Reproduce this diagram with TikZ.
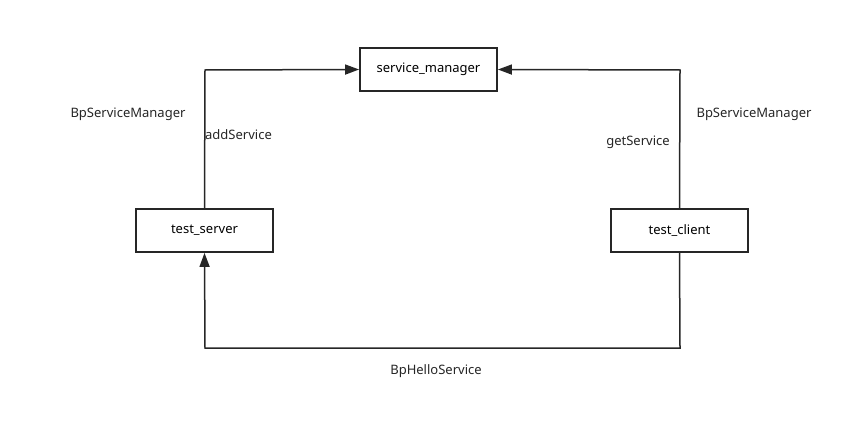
\documentclass[tikz,border=0pt]{standalone}
\usepackage{fontspec}
\setmainfont{Noto Sans}
\usetikzlibrary{arrows.meta}
\begin{document}
\begin{tikzpicture}[x=1pt,y=-1pt,
  box/.style={draw=black!85,line width=1.8pt,minimum width=137pt,minimum height=43pt,inner sep=0pt,font=\fontsize{13}{15}\selectfont},
  conn/.style={draw=black!85,line width=1.5pt,-{Triangle[length=14pt,width=10pt]}},
  lbl/.style={font=\fontsize{13}{15}\selectfont,text=black!85,inner sep=0pt}]
\useasboundingbox (0,0) rectangle (866,423);
\node[box] (sm) at (428.5,69.5) {service\_manager};
\node[box] (ts) at (204.5,230.5) {test\_server};
\node[box] (tc) at (679.5,230.5) {test\_client};
\coordinate (c1) at (205,70);
\coordinate (c2) at (680,70);
\coordinate (c3) at (680,348);
\coordinate (c4) at (205,348);
\draw[conn] (ts.north) -- (c1) -- (sm.west);
\draw[conn] (tc.north) -- (c2) -- (sm.east);
\draw[conn] (tc.south) -- (c3) -- (c4) -- (ts.south);
\node[lbl] (l1) at (128,114) {BpServiceManager};
\node[lbl,anchor=west] (l2) at (205,135) {addService};
\node[lbl] (l3) at (638,142) {getService};
\node[lbl] (l4) at (754,114) {BpServiceManager};
\node[lbl] (l5) at (436,371) {BpHelloService};
\end{tikzpicture}
\end{document}
